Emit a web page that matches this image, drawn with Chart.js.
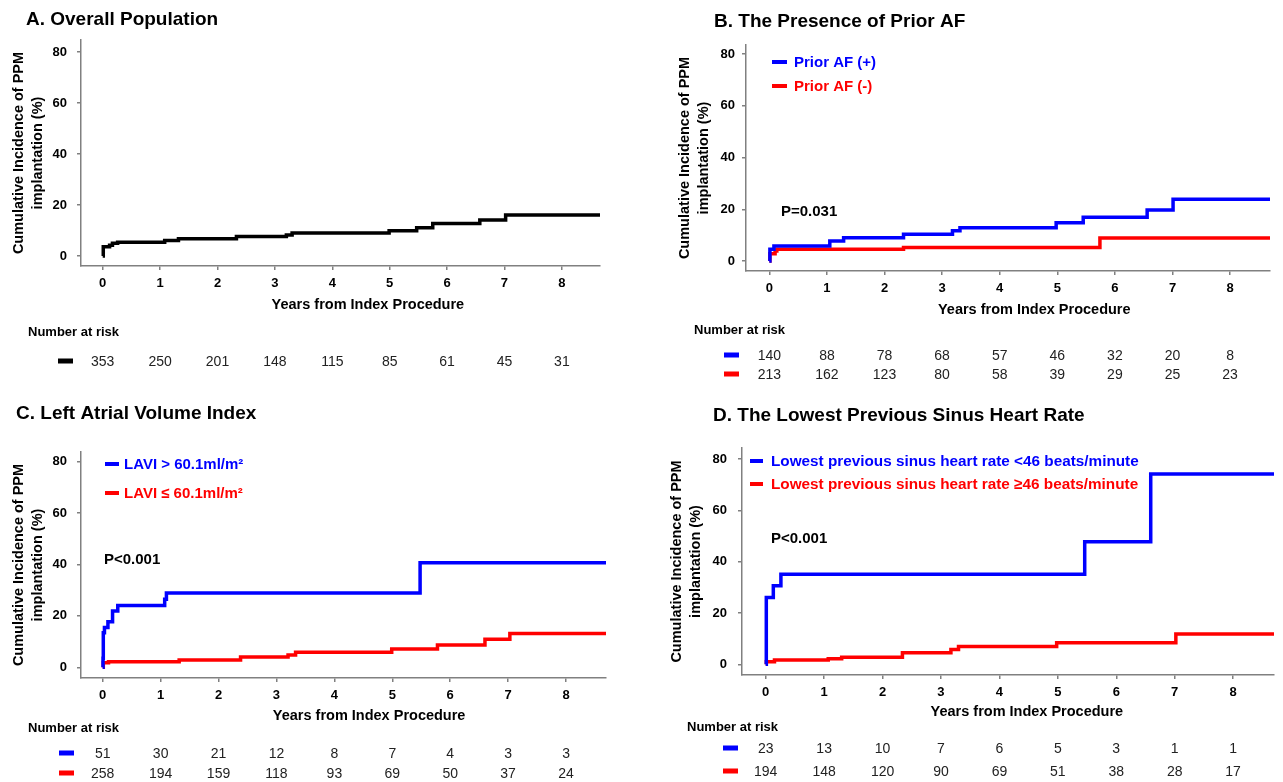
<!DOCTYPE html>
<html>
<head>
<meta charset="utf-8">
<title>Cumulative incidence of PPM implantation</title>
<script src="https://cdn.jsdelivr.net/npm/chart.js@4.4.1/dist/chart.umd.min.js"></script>
<style>
  html, body { margin: 0; padding: 0; background: #fff; }
  #wrap { position: relative; width: 1283px; height: 782px; overflow: hidden; }
  canvas { position: absolute; }
</style>
</head>
<body>
<div id="wrap">
  <canvas id="chartA" width="640" height="390" style="left:0;top:0"></canvas>
  <canvas id="chartB" width="643" height="390" style="left:640px;top:0"></canvas>
  <canvas id="chartC" width="640" height="392" style="left:0;top:390px"></canvas>
  <canvas id="chartD" width="643" height="392" style="left:640px;top:390px"></canvas>
</div>
<script>
// ─── Data ──────────────────────────────────────────────────────────────────
const xTicks = [0, 1, 2, 3, 4, 5, 6, 7, 8];
const yTicks = [0, 20, 40, 60, 80];

// A. Overall population
const timeA = [0, 0.01, 0.12, 0.17, 0.26, 1.08, 1.32, 2.33, 3.2, 3.3, 4.99, 5.47, 5.75, 6.57, 7.02, 8.7];
const cumA  = [0, 3.6, 4.2, 5.0, 5.4, 6.1, 6.8, 7.6, 8.2, 9.0, 9.9, 11.1, 12.7, 14.1, 16.1, 16.1];
const riskA = [353, 250, 201, 148, 115, 85, 61, 45, 31];

// B. Prior AF
const timeAFpos = [0, 0.01, 0.08, 1.05, 1.29, 2.33, 3.18, 3.31, 4.98, 5.45, 6.56, 7.01, 8.72];
const cumAFpos  = [0, 4.5, 5.8, 7.7, 9.0, 10.3, 11.7, 12.9, 14.8, 16.9, 19.7, 23.9, 23.9];
const timeAFneg = [0, 0.01, 0.1, 0.13, 2.33, 5.74, 8.72];
const cumAFneg  = [0, 2.8, 3.9, 4.5, 5.2, 8.9, 8.9];
const riskAFpos = [140, 88, 78, 68, 57, 46, 32, 20, 8];
const riskAFneg = [213, 162, 123, 80, 58, 39, 29, 25, 23];

// C. LAVI
const timeLaviHi = [0, 0.005, 0.01, 0.03, 0.09, 0.17, 0.26, 1.07, 1.1, 5.48, 8.7];
const cumLaviHi  = [0, 3.5, 13.4, 15.5, 17.7, 21.9, 24.0, 26.5, 28.9, 40.7, 40.7];
const timeLaviLo = [0, 0.01, 0.1, 1.32, 2.38, 3.2, 3.33, 4.99, 5.78, 6.6, 7.03, 8.7];
const cumLaviLo  = [0, 1.8, 2.2, 2.8, 4.0, 4.8, 5.9, 7.1, 8.7, 10.9, 13.2, 13.2];
const riskLaviHi = [51, 30, 21, 12, 8, 7, 4, 3, 3];
const riskLaviLo = [258, 194, 159, 118, 93, 69, 50, 37, 24];

// D. Lowest previous sinus heart rate
const timeHrLo = [0, 0.01, 0.13, 0.26, 5.46, 6.59, 8.72];
const cumHrLo  = [0, 26.0, 30.6, 35.1, 47.8, 74.2, 74.2];
const timeHrHi = [0, 0.01, 0.15, 1.07, 1.3, 2.34, 3.17, 3.3, 4.98, 7.02, 8.72];
const cumHrHi  = [0, 1.0, 1.7, 2.2, 2.7, 4.5, 5.8, 6.9, 8.4, 11.8, 11.8];
const riskHrLo = [23, 13, 10, 7, 6, 5, 3, 1, 1];
const riskHrHi = [194, 148, 120, 90, 69, 51, 38, 28, 17];

// ─── Helpers ────────────────────────────────────────────────────────────────
const FONT = '"Liberation Sans", Arial, Helvetica, sans-serif';
const AXIS_GRAY = '#808080';
const BLUE = '#0000ff', RED = '#ff0000', BLACK = '#000000';
Chart.defaults.font.family = FONT;

const toPoints = (t, v) => t.map((x, i) => ({ x, y: v[i] }));

// draws panel title, x title, legend, p value and the number-at-risk table
function textLayer(p) {
  return {
    id: 'textLayer',
    afterDraw(chart) {
      const c = chart.ctx, xs = chart.scales.x;
      c.save();
      c.textBaseline = 'middle';
      c.fillStyle = BLACK;
      c.textAlign = 'left';
      c.font = 'bold 19px ' + FONT;
      c.fillText(p.title, p.titleX, p.titleY);

      c.font = 'bold 14.5px ' + FONT;
      c.textAlign = 'center';
      c.fillText('Years from Index Procedure', xs.getPixelForValue(p.xTitleAt), p.xTitleY);

      if (p.legend) {
        p.series.forEach((s, i) => {
          const y = p.legend.y[i];
          c.fillStyle = s.color;
          c.fillRect(p.legend.x0, y - 2, p.legend.x1 - p.legend.x0, 4);
          c.font = 'bold ' + p.legend.size + 'px ' + FONT;
          c.textAlign = 'left';
          c.fillText(s.label, p.legend.textX, y + 1);
        });
      }
      if (p.pText) {
        c.fillStyle = BLACK;
        c.font = 'bold 15px ' + FONT;
        c.textAlign = 'left';
        c.fillText(p.pText, p.pX, p.pY);
      }

      c.fillStyle = BLACK;
      c.font = 'bold 13px ' + FONT;
      c.textAlign = 'left';
      c.fillText('Number at risk', p.riskLabelX, p.riskLabelY);
      p.series.forEach((s, i) => {
        const y = p.riskY[i];
        c.fillStyle = s.color;
        c.fillRect(p.markX0, y - 2.5, p.markX1 - p.markX0, 5);
        c.fillStyle = '#222';
        c.font = '14px ' + FONT;
        c.textAlign = 'center';
        s.risk.forEach((n, k) => c.fillText(String(n), xs.getPixelForValue(xTicks[k]), y + 1));
      });
      c.restore();
    }
  };
}

function makePanel(id, p) {
  const axisCommon = {
    type: 'linear',
    grid: { drawOnChartArea: false, drawTicks: true, tickLength: 4, color: AXIS_GRAY, lineWidth: 1.5 },
    border: { display: true, color: AXIS_GRAY, width: 1.5 },
  };
  return new Chart(document.getElementById(id), {
    type: 'line',
    data: {
      datasets: p.series.map(s => ({
        data: toPoints(s.t, s.v),
        borderColor: s.color,
        borderWidth: 3.5,
        stepped: 'before',
        pointRadius: 0,
        fill: false,
        borderJoinStyle: 'miter',
        borderCapStyle: 'butt'
      }))
    },
    options: {
      responsive: false,
      animation: false,
      devicePixelRatio: 1,
      layout: { padding: { left: 0, top: p.area.t, right: p.w - p.area.r, bottom: 0 } },
      plugins: { legend: { display: false }, tooltip: { enabled: false }, title: { display: false } },
      scales: {
        x: Object.assign({}, axisCommon, {
          min: p.xMin, max: p.xMax,
          afterBuildTicks: s => { s.ticks = xTicks.map(v => ({ value: v })); },
          afterFit: s => { s.height = p.h - p.area.b; },
          ticks: { color: BLACK, font: { size: 13, weight: 'bold' }, padding: 6, maxRotation: 0, autoSkip: false, callback: v => String(v) }
        }),
        y: Object.assign({}, axisCommon, {
          min: p.yMin, max: p.yMax,
          afterBuildTicks: s => { s.ticks = yTicks.map(v => ({ value: v })); },
          afterFit: s => { s.width = p.area.l; },
          title: {
            display: true,
            text: ['Cumulative Incidence of PPM', 'implantation (%)'],
            color: BLACK,
            font: { size: 14.5, weight: 'bold', lineHeight: 1.31 },
            padding: { top: p.yTitlePad, bottom: 0 }
          },
          ticks: { color: BLACK, font: { size: 13, weight: 'bold' }, padding: p.yTickPad, callback: v => String(v) }
        })
      }
    },
    plugins: [textLayer(p)]
  });
}

// ─── Panels ─────────────────────────────────────────────────────────────────
makePanel('chartA', {
  w: 640, h: 390, area: { l: 81, t: 40, r: 600, b: 266 },
  xMin: -0.378, xMax: 8.664, yMin: -3.92, yMax: 84.7,
  yTitlePad: 10, yTickPad: 10,
  title: 'A. Overall Population', titleX: 26, titleY: 20,
  xTitleAt: 4.62, xTitleY: 305,
  series: [{ t: timeA, v: cumA, color: BLACK, risk: riskA }],
  riskLabelX: 28, riskLabelY: 332, markX0: 58, markX1: 73, riskY: [361]
});

makePanel('chartB', {
  w: 643, h: 390, area: { l: 106, t: 45, r: 630, b: 271 },
  xMin: -0.405, xMax: 8.693, yMin: -3.87, yMax: 83.56,
  yTitlePad: 35.5, yTickPad: 7,
  title: 'B. The Presence of Prior AF', titleX: 74, titleY: 22,
  xTitleAt: 4.6, xTitleY: 310,
  series: [
    { t: timeAFpos, v: cumAFpos, color: BLUE, label: 'Prior AF (+)', risk: riskAFpos },
    { t: timeAFneg, v: cumAFneg, color: RED, label: 'Prior AF (-)', risk: riskAFneg }
  ],
  legend: { x0: 132, x1: 147, textX: 154, y: [62, 86], size: 15 },
  pText: 'P=0.031', pX: 141, pY: 212,
  riskLabelX: 54, riskLabelY: 330, markX0: 84, markX1: 99, riskY: [355, 374]
});

makePanel('chartC', {
  w: 640, h: 392, area: { l: 81, t: 62, r: 606, b: 288 },
  xMin: -0.375, xMax: 8.69, yMin: -4.16, yMax: 83.77,
  yTitlePad: 9.4, yTickPad: 10,
  title: 'C. Left Atrial Volume Index', titleX: 16, titleY: 24,
  xTitleAt: 4.6, xTitleY: 326,
  series: [
    { t: timeLaviHi, v: cumLaviHi, color: BLUE, label: 'LAVI > 60.1ml/m\u00b2', risk: riskLaviHi },
    { t: timeLaviLo, v: cumLaviLo, color: RED, label: 'LAVI \u2264 60.1ml/m\u00b2', risk: riskLaviLo }
  ],
  legend: { x0: 105, x1: 119, textX: 124, y: [74, 103], size: 15 },
  pText: 'P<0.001', pX: 104, pY: 170,
  riskLabelX: 28, riskLabelY: 338, markX0: 59, markX1: 74, riskY: [363, 383]
});

makePanel('chartD', {
  w: 643, h: 392, area: { l: 102, t: 58, r: 634, b: 285 },
  xMin: -0.406, xMax: 8.70, yMin: -4.17, yMax: 84.29,
  yTitlePad: 27.5, yTickPad: 11,
  title: 'D. The Lowest Previous Sinus Heart Rate', titleX: 73, titleY: 26,
  xTitleAt: 4.47, xTitleY: 322,
  series: [
    { t: timeHrLo, v: cumHrLo, color: BLUE, label: 'Lowest previous sinus heart rate <46 beats/minute', risk: riskHrLo },
    { t: timeHrHi, v: cumHrHi, color: RED, label: 'Lowest previous sinus heart rate \u226546 beats/minute', risk: riskHrHi }
  ],
  legend: { x0: 110, x1: 123, textX: 131, y: [71, 94], size: 15.3 },
  pText: 'P<0.001', pX: 131, pY: 149,
  riskLabelX: 47, riskLabelY: 337, markX0: 83, markX1: 98, riskY: [358, 381]
});
</script>
</body>
</html>
